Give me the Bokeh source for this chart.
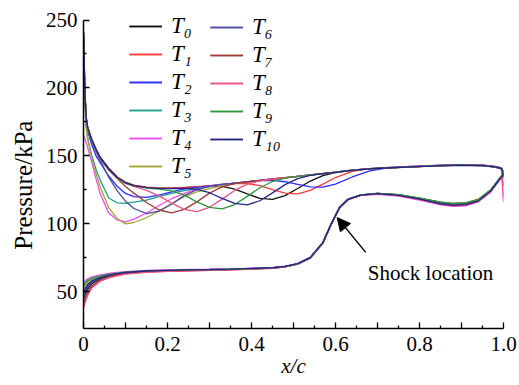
from bokeh.plotting import figure
from bokeh.models import FixedTicker, Legend, LegendItem, Arrow, NormalHead, Label
from bokeh.embed import file_html
from bokeh.resources import INLINE

# ---------------- data ----------------
x_upper = [0.0, 0.003, 0.006, 0.01, 0.02, 0.03, 0.04, 0.06, 0.08, 0.10, 0.12, 0.15, 0.18, 0.21,
           0.24, 0.27, 0.30, 0.33, 0.36, 0.39, 0.42, 0.45, 0.48, 0.51, 0.54, 0.57, 0.60, 0.64,
           0.68, 0.72, 0.78, 0.84, 0.90, 0.95, 0.98, 0.995, 1.0]

upper_T0 = [242, 202, 179, 171, 162, 155, 149, 141, 134.5, 130.5, 128.3, 126.8, 126.2, 126.2, 126.7, 127.2, 127.7, 127.5, 125.5, 122, 118.8, 118, 120.8, 126, 131.5, 135.5, 137.7, 139.5, 140.6, 141.3, 142.2, 143, 143.5, 143.2, 142.2, 141.2, 138]
upper_T1 = [240, 201, 179, 171, 161.5, 154.5, 148.5, 140.5, 134.5, 130.5, 128.5, 127, 126.4, 126.3, 126.8, 127.3, 128.2, 129.2, 129.7, 129.7, 128.1, 125.2, 122.6, 122, 124.6, 129.2, 134.1, 138.7, 140.4, 141.2, 142, 142.7, 143.2, 142.9, 141.8, 140.5, 134]
upper_T2 = [238, 199, 177, 168, 158, 150, 144.8, 135.2, 127.6, 122.4, 120, 119.5, 121.2, 123.6, 125.7, 126.8, 127.9, 128.9, 129.9, 130.9, 131.8, 132, 131, 129, 127.2, 127, 129.2, 134.5, 138.8, 141, 141.9, 142.6, 143.1, 142.8, 141.7, 140.3, 128]
upper_T3 = [215, 190, 172, 163, 150, 140, 132, 119, 115.5, 115, 116, 117.5, 120, 122.5, 124.5, 126, 127.5, 128.8, 129.9, 130.9, 131.9, 132.9, 133.9, 134.9, 135.9, 136.9, 137.9, 139.4, 140.4, 141.1, 141.9, 142.7, 143.2, 142.9, 141.9, 140.8, 139]
upper_T4 = [165, 163, 160, 156, 145, 133, 122, 108, 103, 101.5, 103.5, 108, 113.5, 118.5, 122.5, 125.5, 127.5, 128.8, 130, 131, 132, 133, 134, 135, 136, 137, 138, 139.6, 140.7, 141.4, 142.3, 143.1, 143.6, 143.3, 142.3, 141, 116]
upper_T5 = [238, 196, 172, 162, 148, 137, 127, 112, 104, 100, 101, 104.5, 109.5, 115, 120, 123.5, 126, 128, 129.6, 130.8, 131.8, 132.8, 133.8, 134.8, 135.8, 136.8, 137.8, 139.3, 140.3, 141, 141.8, 142.6, 143.1, 142.8, 141.8, 140.6, 139]
upper_T6 = [241, 201, 178, 170, 160.5, 153, 146.5, 134.3, 124.5, 116.7, 111.3, 107.5, 109.3, 114.6, 120.8, 125.1, 127.6, 129, 130, 131, 132, 133, 134, 135, 136, 137, 138, 139.5, 140.5, 141.2, 142, 142.8, 143.3, 143, 142, 141, 134]
upper_T7 = [240, 200, 178, 170, 161, 154, 148, 139.8, 133.5, 127.5, 122.6, 115.7, 110.2, 108, 110.7, 116.2, 122.6, 127.2, 129.6, 130.9, 132, 133, 134, 135, 136, 137, 138, 139.5, 140.5, 141.2, 142, 142.8, 143.3, 143, 142, 141, 137]
upper_T8 = [239, 199, 177, 169.5, 160.5, 153.5, 147.5, 139.7, 133.8, 129.8, 127.6, 124.7, 120.6, 115.2, 110.7, 109, 112.2, 118.2, 124.6, 129.2, 131.6, 132.9, 134, 135, 136, 137, 138, 139.5, 140.5, 141.2, 142, 142.8, 143.3, 143, 142, 140.5, 120]
upper_T9 = [240, 200, 178, 170, 161, 154, 148, 140, 134, 130, 128, 126.4, 125.6, 124.2, 121.1, 116.2, 112.2, 111, 114.2, 120.2, 126.6, 131.2, 133.6, 134.9, 136, 137, 138, 139.5, 140.5, 141.2, 142, 142.8, 143.3, 143, 142, 141, 138]
upper_T10 = [241, 202, 179, 171, 161.5, 154.5, 148.5, 140.5, 134.3, 130.3, 128.2, 126.7, 126.1, 126, 126.2, 125.3, 122.9, 118.8, 115, 114, 117, 122.8, 128.9, 133.3, 135.7, 136.9, 137.9, 139.4, 140.4, 141.1, 141.9, 142.7, 143.2, 142.9, 141.9, 140.8, 136]

x_lower = [0.0, 0.005, 0.01, 0.02, 0.04, 0.06, 0.08, 0.10, 0.15, 0.20, 0.25, 0.30, 0.35, 0.40,
           0.45, 0.48, 0.51, 0.54, 0.57, 0.59, 0.61, 0.63, 0.66, 0.70, 0.75, 0.80, 0.85, 0.88,
           0.91, 0.94, 0.97, 0.99, 1.0]

lower_T0 = [45, 49, 52, 56, 59.5, 61.5, 62.8, 63.8, 65, 65.5, 66, 66.2, 66.5, 67, 67.5, 68.5, 70.5, 75, 86, 100, 112, 118, 121.2, 122.5, 121.5, 119, 116, 115, 115.5, 118, 125, 133, 137]
lower_T1 = [40, 44.5, 48.5, 53.5, 58, 60.5, 62, 63.2, 64.5, 65, 65.5, 65.8, 66.2, 66.8, 67.3, 68.3, 70.3, 74.8, 85.7, 99.6, 111.6, 117.8, 121, 122.2, 121.2, 118.6, 115.4, 114.3, 114.8, 117.3, 124.5, 132.5, 136]
lower_T2 = [50, 53, 55.5, 58, 60.5, 62.2, 63.3, 64.2, 65.3, 65.8, 66.2, 66.4, 66.7, 67.2, 67.7, 68.7, 70.8, 75.3, 86.3, 100.3, 112.3, 118.2, 121.3, 122.4, 121.2, 118.4, 115, 113.8, 114.3, 117, 124.3, 132.8, 136.5]
lower_T3 = [55, 57, 58.5, 60, 61.8, 63, 63.8, 64.5, 65.5, 65.8, 66.1, 66.3, 66.6, 67.1, 67.6, 68.6, 70.6, 75.2, 86.2, 100.2, 112.2, 118.1, 121.2, 122.3, 121.3, 118.8, 115.6, 114.6, 115.1, 117.6, 124.8, 133, 137.5]
lower_T4 = [57, 58.5, 59.5, 61, 62.5, 63.5, 64.2, 64.8, 65.8, 66.2, 66.5, 66.6, 66.8, 67.3, 67.8, 68.8, 71, 75.5, 86.5, 100.5, 112.5, 118.3, 121, 121.8, 120.5, 117.5, 114, 112.8, 113.3, 116.2, 123.5, 132, 135]
lower_T5 = [52, 55, 57, 59, 61, 62.5, 63.5, 64.3, 65.2, 65.7, 66, 66.2, 66.6, 67, 67.5, 68.5, 70.5, 75, 86, 100, 112, 118, 121.2, 122.4, 121.4, 118.9, 115.8, 114.8, 115.3, 117.8, 125, 133.2, 137.5]
lower_T6 = [47, 50.5, 53.5, 57, 60, 62, 63.2, 64, 65.2, 65.6, 66, 66.2, 66.5, 67, 67.5, 68.5, 70.6, 75.1, 86.1, 100.1, 112.1, 118, 121.1, 122.3, 121.2, 118.6, 115.2, 114, 114.5, 117.2, 124.6, 132.8, 136.8]
lower_T7 = [42, 46, 50, 54.5, 58.5, 61, 62.4, 63.5, 64.8, 65.3, 65.8, 66, 66.4, 66.9, 67.4, 68.4, 70.4, 74.9, 85.9, 99.9, 111.9, 117.9, 121.1, 122.4, 121.4, 118.8, 115.7, 114.6, 115.1, 117.6, 124.8, 133, 137]
lower_T8 = [38, 43, 47.5, 53, 57.8, 60.3, 61.8, 63, 64.4, 65, 65.5, 65.8, 66.2, 66.8, 67.3, 68.3, 70.3, 74.8, 85.8, 99.8, 111.8, 117.8, 120.9, 122, 120.8, 118, 114.5, 113.3, 113.8, 116.6, 124, 132.3, 135.5]
lower_T9 = [54, 56.5, 58, 59.8, 61.6, 62.8, 63.6, 64.4, 65.4, 65.8, 66.1, 66.3, 66.6, 67.1, 67.6, 68.6, 70.6, 75.1, 86.1, 100.1, 112.1, 118.1, 121.3, 122.5, 121.5, 119, 115.9, 114.9, 115.4, 117.9, 125.1, 133.2, 137.3]
lower_T10 = [49, 52, 55, 58, 60.5, 62.3, 63.4, 64.2, 65.3, 65.8, 66.2, 66.4, 66.7, 67.2, 67.7, 68.7, 70.7, 75.2, 86.2, 100.2, 112.2, 118.1, 121.1, 122.2, 121, 118.2, 114.8, 113.6, 114.1, 116.8, 124.2, 132.6, 136.2]

series_labels = ["T\u2080", "T\u2081", "T\u2082", "T\u2083", "T\u2084", "T\u2085",
                 "T\u2086", "T\u2087", "T\u2088", "T\u2089", "T\u2081\u2080"]
series_colors = ["#111111", "#ff3b3b", "#2b2bff", "#1f9e8f", "#f04cf0", "#a0a830",
                 "#4a4aa0", "#a03a3a", "#f0508a", "#2a9a3a", "#262688"]

x_ticks = [0, 0.1, 0.2, 0.3, 0.4, 0.5, 0.6, 0.7, 0.8, 0.9, 1.0]
x_minor = [0.05, 0.15, 0.25, 0.35, 0.45, 0.55, 0.65, 0.75, 0.85, 0.95]
x_tick_labels = {0: "0", 0.1: "", 0.2: "0.2", 0.3: "", 0.4: "0.4", 0.5: "", 0.6: "0.6",
                 0.7: "", 0.8: "0.8", 0.9: "", 1.0: "1.0"}
y_ticks = [50, 100, 150, 200, 250]
y_minor = [75, 125, 175, 225]

uppers = [upper_T0, upper_T1, upper_T2, upper_T3, upper_T4, upper_T5,
          upper_T6, upper_T7, upper_T8, upper_T9, upper_T10]
lowers = [lower_T0, lower_T1, lower_T2, lower_T3, lower_T4, lower_T5,
          lower_T6, lower_T7, lower_T8, lower_T9, lower_T10]

FONT = "Liberation Serif"

p = figure(width=519, height=385, x_range=(0, 1.0), y_range=(23, 257),
           output_backend="svg", toolbar_location=None,
           min_border_left=83, min_border_right=16, min_border_top=10, min_border_bottom=57)
p.outline_line_color = None
p.xgrid.visible = False
p.ygrid.visible = False
p.background_fill_color = "white"
p.border_fill_color = "white"

items = []
for lab, col, yu, yl in zip(series_labels, series_colors, uppers, lowers):
    r1 = p.line(x_upper, yu, line_color=col, line_width=1.3)
    r2 = p.line(x_lower, yl, line_color=col, line_width=1.3)
    items.append(LegendItem(label=lab, renderers=[r1, r2]))

for ax in (p.xaxis[0], p.yaxis[0]):
    ax.axis_line_color = "black"
    ax.axis_line_width = 1.5
    ax.major_tick_line_color = "black"
    ax.minor_tick_line_color = "black"
    ax.major_tick_line_width = 1.3
    ax.minor_tick_line_width = 1.3
    ax.major_tick_in = 6
    ax.major_tick_out = 0
    ax.minor_tick_in = 3
    ax.minor_tick_out = 0
    ax.major_label_text_font = FONT
    ax.major_label_text_font_size = "21px"
    ax.major_label_text_color = "black"
    ax.axis_label_text_font = FONT
    ax.axis_label_text_color = "black"

p.xaxis[0].ticker = FixedTicker(ticks=x_ticks, minor_ticks=x_minor)
p.xaxis[0].major_label_overrides = x_tick_labels
p.xaxis[0].major_label_standoff = 8
p.xaxis[0].axis_label = "x/c"
p.xaxis[0].axis_label_text_font_style = "italic"
p.xaxis[0].axis_label_text_font_size = "21px"
p.xaxis[0].axis_label_standoff = 0

p.yaxis[0].ticker = FixedTicker(ticks=y_ticks, minor_ticks=y_minor)
p.yaxis[0].bounds = (23, 250)
p.yaxis[0].major_label_standoff = 6
p.yaxis[0].axis_label = "Pressure/kPa" + "\u00a0" * 5
p.yaxis[0].axis_label_text_font_style = "normal"
p.yaxis[0].axis_label_text_font_size = "25px"
p.yaxis[0].axis_label_standoff = 6

def make_legend(its, loc):
    return Legend(items=its, location=loc, orientation="vertical",
                  label_text_font=FONT, label_text_font_size="23px",
                  label_text_font_style="italic", label_text_color="black",
                  label_height=24, glyph_height=24, glyph_width=33, spacing=2,
                  label_standoff=9, padding=0, margin=0,
                  border_line_color=None, background_fill_alpha=0)

p.add_layout(make_legend(items[:6], (46, 149)))
p.add_layout(make_legend(items[6:], (127, 176)))

p.add_layout(Arrow(x_start=0.672, y_start=79, x_end=0.604, y_end=104.6,
                   line_color="black", line_width=1.5,
                   end=NormalHead(size=13, fill_color="black", line_color="black")))
p.add_layout(Label(x=0.677, y=63.6, text="Shock location", text_font=FONT,
                   text_font_size="21px", text_baseline="alphabetic", text_color="black"))

open("out.html", "w").write(file_html(p, INLINE))
